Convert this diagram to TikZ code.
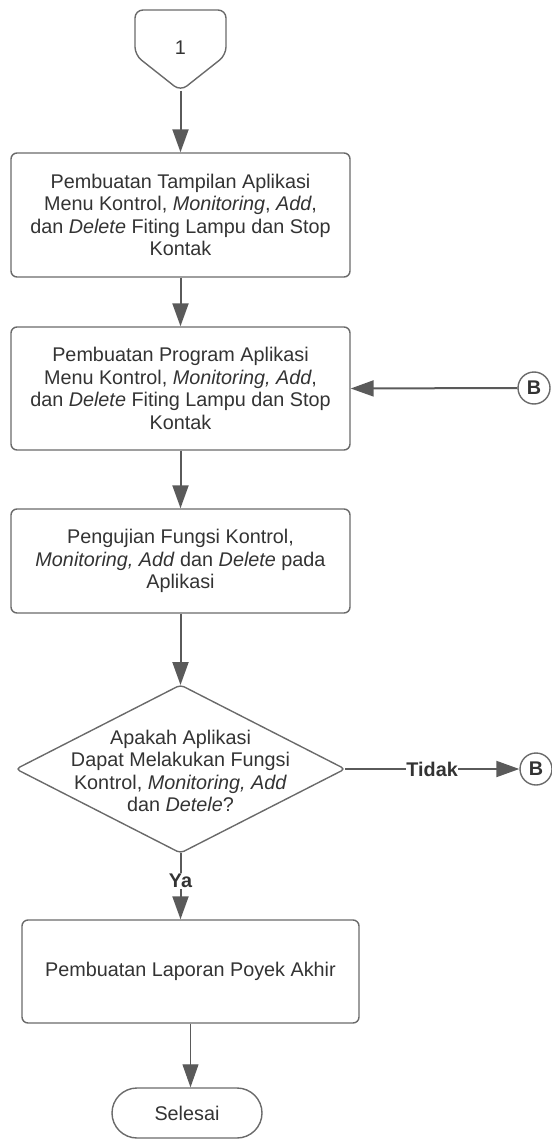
\documentclass[tikz,border=0pt]{standalone}
\usepackage{fontspec}
\setmainfont{Liberation Sans}
\usetikzlibrary{arrows.meta,shapes.misc}

\definecolor{linegray}{HTML}{5A5A5A}
\definecolor{edgegray}{HTML}{6A6A6A}
\definecolor{inkgray}{HTML}{333333}

\newcommand{\flowfont}{\fontsize{19.8}{22.5}\selectfont}

\tikzset{
  procbox/.style={draw=edgegray, line width=1.4pt, rounded corners=6pt,
    minimum width=339pt, inner sep=0pt, align=center, text=inkgray,
    font=\flowfont},
  plainlabel/.style={inner sep=0pt, align=center, text=inkgray, font=\flowfont},
  refcircle/.style={draw=edgegray, line width=1.4pt, circle, minimum size=32pt,
    inner sep=0pt, text=inkgray, font=\flowfont\bfseries},
  termnode/.style={draw=edgegray, line width=1.4pt, rounded rectangle,
    minimum width=150pt, minimum height=50pt, inner sep=0pt, text=inkgray,
    font=\flowfont},
  flow/.style={draw=linegray, line width=2pt,
    -{Triangle[length=23pt,width=16pt]}},
  edgelabel/.style={fill=white, inner sep=1pt, text=inkgray,
    font=\flowfont\bfseries}
}

\begin{document}
\begin{tikzpicture}[x=1pt, y=-1pt]
\useasboundingbox (0,0) rectangle (551,1139);

% off-page connector "1"
\draw[draw=edgegray, line width=1.4pt, rounded corners=8pt]
  (180.5,10) -- (226,10) -- (226,55) -- (180.5,91) -- (135,55) -- (135,10) -- cycle;
\node[plainlabel] (start) at (180.5,48) {1};
\coordinate (starttip) at (180.5,91);

% process steps
\node[procbox, minimum height=124pt] (tampilan) at (180.5,215)
  {Pembuatan Tampilan Aplikasi\\
   Menu Kontrol, \textit{Monitoring}, \textit{Add},\\
   dan \textit{Delete} Fiting Lampu dan Stop\\
   Kontak};

\node[procbox, minimum height=123pt] (program) at (180.5,388.5)
  {Pembuatan Program Aplikasi\\
   Menu Kontrol, \textit{Monitoring, Add},\\
   dan \textit{Delete} Fiting Lampu dan Stop\\
   Kontak};

\node[procbox, minimum height=104pt] (uji) at (180.5,561)
  {Pengujian Fungsi Kontrol,\\
   \textit{Monitoring, Add} dan \textit{Delete} pada\\
   Aplikasi};

% decision
\coordinate (decT) at (180.5,685);
\coordinate (decR) at (345,769);
\coordinate (decB) at (180.5,853);
\coordinate (decL) at (16,769);
\draw[draw=edgegray, line width=1.4pt, rounded corners=4pt]
  (decT) -- (decR) -- (decB) -- (decL) -- cycle;
\node[plainlabel] (cek) at (180.5,771)
  {Apakah Aplikasi\\
   Dapat Melakukan Fungsi\\
   Kontrol, \textit{Monitoring, Add}\\
   dan \textit{Detele}?};

\node[procbox, minimum width=337pt, minimum height=103pt] (laporan) at (190.5,971.5)
  {Pembuatan Laporan Poyek Akhir\vphantom{Ag}};

\node[termnode] (selesai) at (187,1113) {Selesai};

% connector circles
\node[refcircle] (b1) at (534,388) {B};
\node[refcircle] (b2) at (536,769) {B};

% connectors
\draw[flow] (starttip) -- (tampilan.north);
\draw[flow] (tampilan.south) -- (program.north);
\draw[flow] (b1.west) -- (program.east);
\draw[flow] (program.south) -- (uji.north);
\draw[flow] (uji.south) -- (decT);
\draw[flow] (decR) -- node[edgelabel, pos=0.5, inner sep=0.5pt] {Tidak} (b2.west);
\draw[flow] (decB) -- node[edgelabel, pos=0.42] {Ya} (laporan.north -| decB);
\draw[flow, line width=1pt] (laporan.south) -- (selesai.north -| laporan.south);
\end{tikzpicture}
\end{document}
